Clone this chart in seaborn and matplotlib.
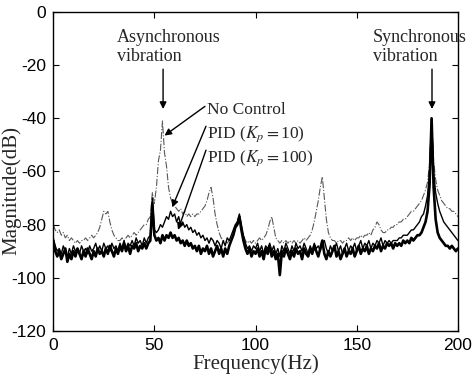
import numpy as np
import pandas as pd
import seaborn as sns
import matplotlib
matplotlib.use("Agg")
import matplotlib.pyplot as plt

# frequency grid (Hz), 1 Hz resolution
freq = list(range(0, 201))

# magnitudes in dB
no_control = [
    -80, -82, -83, -82, -84, -83, -85, -84, -86, -85,   # 0-9
    -86, -87, -86, -87, -86, -86, -85, -86, -85, -84,   # 10-19
    -85, -84, -83, -81, -78, -75, -76, -75, -79, -82,   # 20-29
    -84, -85, -86, -86, -85, -86, -85, -84, -85, -84,   # 30-39
    -83, -84, -83, -82, -81, -80, -80, -78, -77, -68,   # 40-49
    -72, -66, -56, -52, -41, -53, -58, -66, -70, -72,   # 50-59
    -73, -74, -75, -74, -76, -75, -77, -76, -77, -76,   # 60-69
    -77, -76, -76, -75, -74, -73, -71, -68, -66, -70,   # 70-79
    -76, -80, -83, -85, -86, -86, -87, -86, -85, -84,   # 80-89
    -82, -80, -78, -81, -84, -86, -87, -86, -87, -86,   # 90-99
    -87, -86, -85, -86, -85, -84, -82, -79, -77, -81,   # 100-109
    -85, -86, -87, -86, -87, -86, -87, -86, -87, -86,   # 110-119
    -87, -86, -87, -86, -85, -86, -85, -84, -82, -79,   # 120-129
    -75, -71, -66, -62, -70, -78, -83, -85, -86, -86,   # 130-139
    -87, -86, -86, -87, -86, -86, -85, -86, -85, -86,   # 140-149
    -85, -85, -84, -85, -84, -84, -83, -84, -82, -81,   # 150-159
    -79, -80, -82, -83, -83, -82, -82, -81, -81, -80,   # 160-169
    -80, -79, -79, -78, -78, -77, -76, -75, -75, -74,   # 170-179
    -73, -72, -71, -69, -67, -64, -57, -40, -56, -63,   # 180-189
    -67, -69, -71, -72, -73, -74, -74, -75, -75, -76,   # 190-199
    -77,                                                # 200
]

pid_kp10 = [
    -85, -88, -90, -89, -91, -88, -90, -92, -89, -91,   # 0-9
    -88, -90, -89, -91, -88, -90, -89, -91, -88, -90,   # 10-19
    -89, -87, -90, -88, -90, -87, -89, -88, -90, -87,   # 20-29
    -89, -88, -90, -87, -89, -86, -89, -87, -88, -86,   # 30-39
    -88, -85, -87, -86, -88, -85, -87, -85, -84, -70,   # 40-49
    -82, -83, -82, -80, -81, -79, -77, -78, -75, -77,   # 50-59
    -76, -79, -77, -80, -79, -81, -80, -82, -81, -83,   # 60-69
    -82, -84, -83, -85, -84, -86, -85, -87, -85, -86,   # 70-79
    -88, -86, -87, -89, -86, -88, -85, -86, -84, -82,   # 80-89
    -80, -79, -76, -80, -84, -87, -89, -88, -90, -88,   # 90-99
    -89, -87, -90, -88, -91, -88, -89, -87, -90, -88,   # 100-109
    -91, -89, -92, -88, -90, -87, -89, -91, -88, -90,   # 110-119
    -87, -89, -88, -90, -87, -89, -91, -88, -90, -87,   # 120-129
    -89, -88, -90, -87, -86, -89, -91, -88, -90, -89,   # 130-139
    -87, -90, -88, -91, -89, -87, -90, -88, -89, -87,   # 140-149
    -90, -88, -86, -89, -87, -88, -86, -89, -87, -88,   # 150-159
    -86, -87, -85, -88, -86, -87, -86, -87, -86, -86,   # 160-169
    -86, -85, -85, -84, -84, -84, -83, -82, -82, -81,   # 170-179
    -80, -79, -77, -76, -73, -69, -60, -40, -60, -68,   # 180-189
    -72, -75, -77, -79, -80, -81, -82, -83, -84, -85,   # 190-199
    -86,                                                # 200
]

pid_kp100 = [
    -86, -90, -92, -90, -93, -91, -89, -94, -91, -93,   # 0-9
    -90, -92, -89, -91, -93, -90, -92, -89, -91, -93,   # 10-19
    -90, -92, -89, -91, -90, -92, -89, -91, -88, -90,   # 20-29
    -92, -89, -91, -88, -90, -87, -90, -88, -91, -88,   # 30-39
    -89, -87, -90, -88, -89, -87, -89, -87, -86, -72,   # 40-49
    -84, -86, -85, -87, -84, -86, -84, -85, -83, -85,   # 50-59
    -84, -86, -85, -87, -86, -88, -86, -88, -87, -89,   # 60-69
    -88, -90, -88, -91, -89, -90, -88, -91, -89, -92,   # 70-79
    -90, -88, -91, -89, -92, -89, -91, -88, -86, -84,   # 80-89
    -81, -80, -77, -82, -86, -89, -91, -89, -92, -90,   # 90-99
    -91, -89, -92, -90, -93, -89, -91, -88, -92, -90,   # 100-109
    -93, -91, -99, -90, -92, -89, -91, -93, -90, -92,   # 110-119
    -89, -91, -90, -93, -89, -91, -92, -89, -91, -88,   # 120-129
    -90, -92, -89, -86, -91, -93, -90, -92, -90, -88,   # 130-139
    -92, -90, -93, -91, -89, -92, -90, -91, -89, -92,   # 140-149
    -90, -88, -91, -89, -90, -88, -91, -89, -90, -88,   # 150-159
    -89, -87, -90, -88, -89, -87, -88, -87, -89, -87,   # 160-169
    -88, -87, -88, -86, -87, -86, -87, -85, -86, -85,   # 170-179
    -84, -84, -83, -81, -79, -75, -65, -40, -66, -78,   # 180-189
    -83, -85, -86, -87, -88, -88, -89, -88, -89, -90,   # 190-199
    -89,                                                # 200
]

df = pd.DataFrame({
    "freq": freq,
    "No Control": no_control,
    "PID10": pid_kp10,
    "PID100": pid_kp100,
})

sns.set_style("ticks")
plt.rcParams["font.family"] = ["Liberation Sans", "DejaVu Sans"]
plt.rcParams["axes.unicode_minus"] = False
plt.rcParams["mathtext.fontset"] = "stix"

fig = plt.figure(figsize=(4.75, 3.76), dpi=100)
ax = fig.add_axes([0.112, 0.12, 0.852, 0.848])

sns.lineplot(data=df, x="freq", y="No Control", ax=ax, color="0.35",
             lw=0.8, linestyle="-.")
sns.lineplot(data=df, x="freq", y="PID10", ax=ax, color="black", lw=1.0)
sns.lineplot(data=df, x="freq", y="PID100", ax=ax, color="black", lw=1.9)

ax.set_xlim(0, 200)
ax.set_ylim(-120, 0)
ax.set_xticks([0, 50, 100, 150, 200])
ax.set_yticks([0, -20, -40, -60, -80, -100, -120])
ax.tick_params(direction="in", top=True, right=True, length=4, width=0.8,
               labelsize=12.5, colors="black", pad=5)
for s in ax.spines.values():
    s.set_linewidth(1.0)
    s.set_color("black")

serif = ["Liberation Serif", "DejaVu Serif"]
ax.set_xlabel("Frequency(Hz)", family=serif, fontsize=15, labelpad=1)
ax.set_ylabel("Magnitude(dB)", family=serif, fontsize=15)
ax.yaxis.set_label_coords(-0.078, 0.44)

# annotations
ax.text(31.5, -6.5, "Asynchronous\nvibration", family=serif, fontsize=13,
        ha="left", va="top", linespacing=1.1)
ax.text(158, -6.5, "Synchronous\nvibration", family=serif, fontsize=13,
        ha="left", va="top", linespacing=1.1)

arrow = dict(arrowstyle="-|>", color="black", lw=1.0, mutation_scale=10,
             shrinkA=0, shrinkB=0)
ax.annotate("", xy=(54.3, -36.5), xytext=(54.3, -21.5), arrowprops=arrow)
ax.annotate("", xy=(187.2, -36.5), xytext=(187.2, -21.5), arrowprops=arrow)

ax.text(76, -37, "No Control", family=serif, fontsize=12.5, va="center")
ax.text(76, -46, "PID ($K_p$$=$10)", family=serif, fontsize=12.5, va="center")
ax.text(76, -55, "PID ($K_p$$=$100)", family=serif, fontsize=12.5, va="center")

ax.annotate("", xy=(55, -46.5), xytext=(75, -35.5), arrowprops=arrow)
ax.annotate("", xy=(58.8, -73.5), xytext=(75.5, -43), arrowprops=arrow)
ax.annotate("", xy=(61.7, -82), xytext=(75.5, -52), arrowprops=arrow)

fig.savefig("out.png", dpi=100)
